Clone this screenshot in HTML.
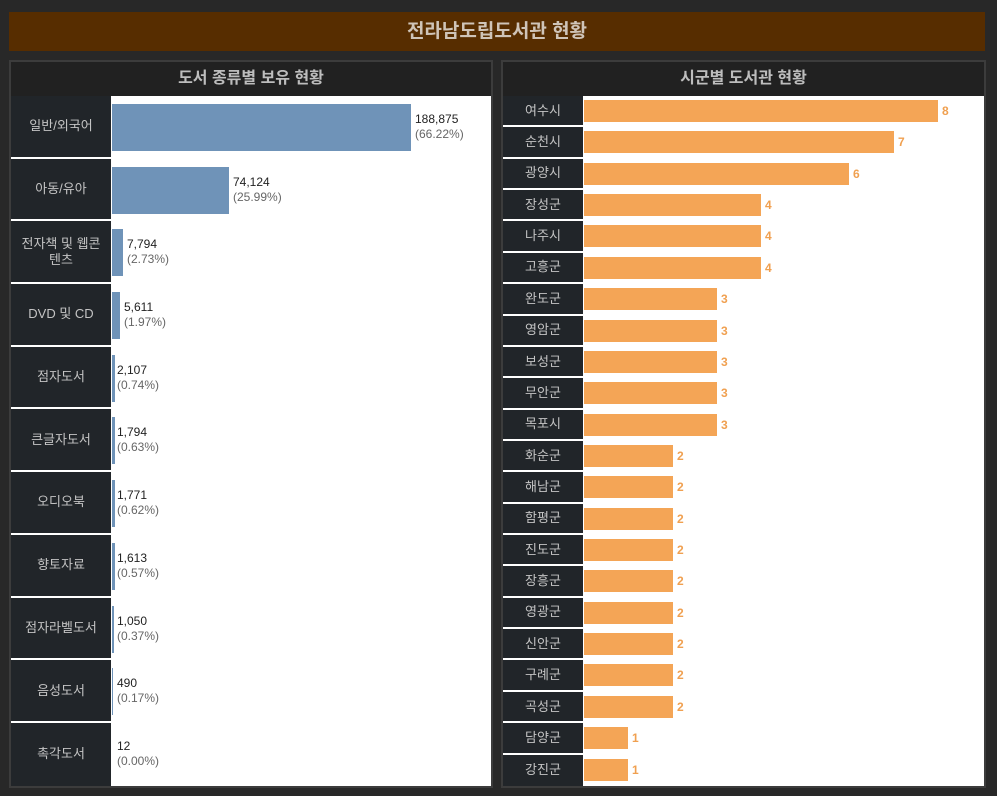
<!DOCTYPE html>
<html><head><meta charset="utf-8"><style>
*{margin:0;padding:0;box-sizing:border-box}
body{width:997px;height:796px;background:#282828;font-family:"Liberation Sans","Noto Sans CJK KR",sans-serif;position:relative;overflow:hidden}
.hdr{position:absolute;left:9px;top:12px;width:976px;height:39px;background:#572d00;color:#cfc4b8;font-weight:bold;font-size:19px;text-align:center;line-height:39px}
.panel{position:absolute;top:60px;height:728px;border:2px solid #3c3c3c;background:#212121}
.ttl{height:34px;line-height:34px;text-align:center;color:#bdbdbd;font-weight:bold;font-size:16px}
.plot{position:absolute;top:34px;left:0;right:0;bottom:0;background:#fff}
.row{position:relative;display:flex}
.lab{background:#212529;color:#c4c4c4;font-size:13px;display:flex;align-items:center;justify-content:center;text-align:center;border-bottom:2px solid #fff;line-height:16px}
.bar{position:absolute}
.v{position:absolute;font-size:12px;line-height:15px;color:#222}
.v span{color:#666}
.o{position:absolute;font-size:12px;font-weight:bold;color:#f0a050}
</style></head><body>
<div class="hdr">전라남도립도서관 현황</div>
<div class="panel" style="left:9px;width:484px">
<div class="ttl">도서 종류별 보유 현황</div>
<div class="plot">
<div class="row" style="height:62.7px"><div class="lab" style="width:100px">일반/외국어</div><div class="bar" style="left:101px;top:8px;width:299px;height:47px;background:#6f93b8"></div><div class="v" style="left:404px;top:16px">188,875<br><span>(66.22%)</span></div></div>
<div class="row" style="height:62.7px"><div class="lab" style="width:100px">아동/유아</div><div class="bar" style="left:101px;top:8px;width:117px;height:47px;background:#6f93b8"></div><div class="v" style="left:222px;top:16px">74,124<br><span>(25.99%)</span></div></div>
<div class="row" style="height:62.7px"><div class="lab" style="width:100px">전자책 및 웹콘<br>텐츠</div><div class="bar" style="left:101px;top:8px;width:11px;height:47px;background:#6f93b8"></div><div class="v" style="left:116px;top:16px">7,794<br><span>(2.73%)</span></div></div>
<div class="row" style="height:62.7px"><div class="lab" style="width:100px">DVD 및 CD</div><div class="bar" style="left:101px;top:8px;width:8px;height:47px;background:#6f93b8"></div><div class="v" style="left:113px;top:16px">5,611<br><span>(1.97%)</span></div></div>
<div class="row" style="height:62.7px"><div class="lab" style="width:100px">점자도서</div><div class="bar" style="left:101px;top:8px;width:3px;height:47px;background:#6f93b8"></div><div class="v" style="left:106px;top:16px">2,107<br><span>(0.74%)</span></div></div>
<div class="row" style="height:62.7px"><div class="lab" style="width:100px">큰글자도서</div><div class="bar" style="left:101px;top:8px;width:3px;height:47px;background:#6f93b8"></div><div class="v" style="left:106px;top:16px">1,794<br><span>(0.63%)</span></div></div>
<div class="row" style="height:62.7px"><div class="lab" style="width:100px">오디오북</div><div class="bar" style="left:101px;top:8px;width:3px;height:47px;background:#6f93b8"></div><div class="v" style="left:106px;top:16px">1,771<br><span>(0.62%)</span></div></div>
<div class="row" style="height:62.7px"><div class="lab" style="width:100px">향토자료</div><div class="bar" style="left:101px;top:8px;width:3px;height:47px;background:#6f93b8"></div><div class="v" style="left:106px;top:16px">1,613<br><span>(0.57%)</span></div></div>
<div class="row" style="height:62.7px"><div class="lab" style="width:100px">점자라벨도서</div><div class="bar" style="left:101px;top:8px;width:2px;height:47px;background:#6f93b8"></div><div class="v" style="left:106px;top:16px">1,050<br><span>(0.37%)</span></div></div>
<div class="row" style="height:62.7px"><div class="lab" style="width:100px">음성도서</div><div class="bar" style="left:101px;top:8px;width:1px;height:47px;background:#6f93b8"></div><div class="v" style="left:106px;top:16px">490<br><span>(0.17%)</span></div></div>
<div class="row" style="height:62.7px"><div class="lab" style="width:100px;border-bottom:none">촉각도서</div><div class="v" style="left:106px;top:16px">12<br><span>(0.00%)</span></div></div>
</div></div>
<div class="panel" style="left:501px;width:485px">
<div class="ttl">시군별 도서관 현황</div>
<div class="plot">
<div class="row" style="height:31.36px"><div class="lab" style="width:80px">여수시</div><div class="bar" style="left:81px;top:4px;width:354px;height:22px;background:#f4a556"></div><div class="o" style="left:439px;top:8px">8</div></div>
<div class="row" style="height:31.36px"><div class="lab" style="width:80px">순천시</div><div class="bar" style="left:81px;top:4px;width:310px;height:22px;background:#f4a556"></div><div class="o" style="left:395px;top:8px">7</div></div>
<div class="row" style="height:31.36px"><div class="lab" style="width:80px">광양시</div><div class="bar" style="left:81px;top:4px;width:265px;height:22px;background:#f4a556"></div><div class="o" style="left:350px;top:8px">6</div></div>
<div class="row" style="height:31.36px"><div class="lab" style="width:80px">장성군</div><div class="bar" style="left:81px;top:4px;width:177px;height:22px;background:#f4a556"></div><div class="o" style="left:262px;top:8px">4</div></div>
<div class="row" style="height:31.36px"><div class="lab" style="width:80px">나주시</div><div class="bar" style="left:81px;top:4px;width:177px;height:22px;background:#f4a556"></div><div class="o" style="left:262px;top:8px">4</div></div>
<div class="row" style="height:31.36px"><div class="lab" style="width:80px">고흥군</div><div class="bar" style="left:81px;top:4px;width:177px;height:22px;background:#f4a556"></div><div class="o" style="left:262px;top:8px">4</div></div>
<div class="row" style="height:31.36px"><div class="lab" style="width:80px">완도군</div><div class="bar" style="left:81px;top:4px;width:133px;height:22px;background:#f4a556"></div><div class="o" style="left:218px;top:8px">3</div></div>
<div class="row" style="height:31.36px"><div class="lab" style="width:80px">영암군</div><div class="bar" style="left:81px;top:4px;width:133px;height:22px;background:#f4a556"></div><div class="o" style="left:218px;top:8px">3</div></div>
<div class="row" style="height:31.36px"><div class="lab" style="width:80px">보성군</div><div class="bar" style="left:81px;top:4px;width:133px;height:22px;background:#f4a556"></div><div class="o" style="left:218px;top:8px">3</div></div>
<div class="row" style="height:31.36px"><div class="lab" style="width:80px">무안군</div><div class="bar" style="left:81px;top:4px;width:133px;height:22px;background:#f4a556"></div><div class="o" style="left:218px;top:8px">3</div></div>
<div class="row" style="height:31.36px"><div class="lab" style="width:80px">목포시</div><div class="bar" style="left:81px;top:4px;width:133px;height:22px;background:#f4a556"></div><div class="o" style="left:218px;top:8px">3</div></div>
<div class="row" style="height:31.36px"><div class="lab" style="width:80px">화순군</div><div class="bar" style="left:81px;top:4px;width:89px;height:22px;background:#f4a556"></div><div class="o" style="left:174px;top:8px">2</div></div>
<div class="row" style="height:31.36px"><div class="lab" style="width:80px">해남군</div><div class="bar" style="left:81px;top:4px;width:89px;height:22px;background:#f4a556"></div><div class="o" style="left:174px;top:8px">2</div></div>
<div class="row" style="height:31.36px"><div class="lab" style="width:80px">함평군</div><div class="bar" style="left:81px;top:4px;width:89px;height:22px;background:#f4a556"></div><div class="o" style="left:174px;top:8px">2</div></div>
<div class="row" style="height:31.36px"><div class="lab" style="width:80px">진도군</div><div class="bar" style="left:81px;top:4px;width:89px;height:22px;background:#f4a556"></div><div class="o" style="left:174px;top:8px">2</div></div>
<div class="row" style="height:31.36px"><div class="lab" style="width:80px">장흥군</div><div class="bar" style="left:81px;top:4px;width:89px;height:22px;background:#f4a556"></div><div class="o" style="left:174px;top:8px">2</div></div>
<div class="row" style="height:31.36px"><div class="lab" style="width:80px">영광군</div><div class="bar" style="left:81px;top:4px;width:89px;height:22px;background:#f4a556"></div><div class="o" style="left:174px;top:8px">2</div></div>
<div class="row" style="height:31.36px"><div class="lab" style="width:80px">신안군</div><div class="bar" style="left:81px;top:4px;width:89px;height:22px;background:#f4a556"></div><div class="o" style="left:174px;top:8px">2</div></div>
<div class="row" style="height:31.36px"><div class="lab" style="width:80px">구례군</div><div class="bar" style="left:81px;top:4px;width:89px;height:22px;background:#f4a556"></div><div class="o" style="left:174px;top:8px">2</div></div>
<div class="row" style="height:31.36px"><div class="lab" style="width:80px">곡성군</div><div class="bar" style="left:81px;top:4px;width:89px;height:22px;background:#f4a556"></div><div class="o" style="left:174px;top:8px">2</div></div>
<div class="row" style="height:31.36px"><div class="lab" style="width:80px">담양군</div><div class="bar" style="left:81px;top:4px;width:44px;height:22px;background:#f4a556"></div><div class="o" style="left:129px;top:8px">1</div></div>
<div class="row" style="height:31.36px"><div class="lab" style="width:80px;border-bottom:none">강진군</div><div class="bar" style="left:81px;top:4px;width:44px;height:22px;background:#f4a556"></div><div class="o" style="left:129px;top:8px">1</div></div>
</div></div>
</body></html>
